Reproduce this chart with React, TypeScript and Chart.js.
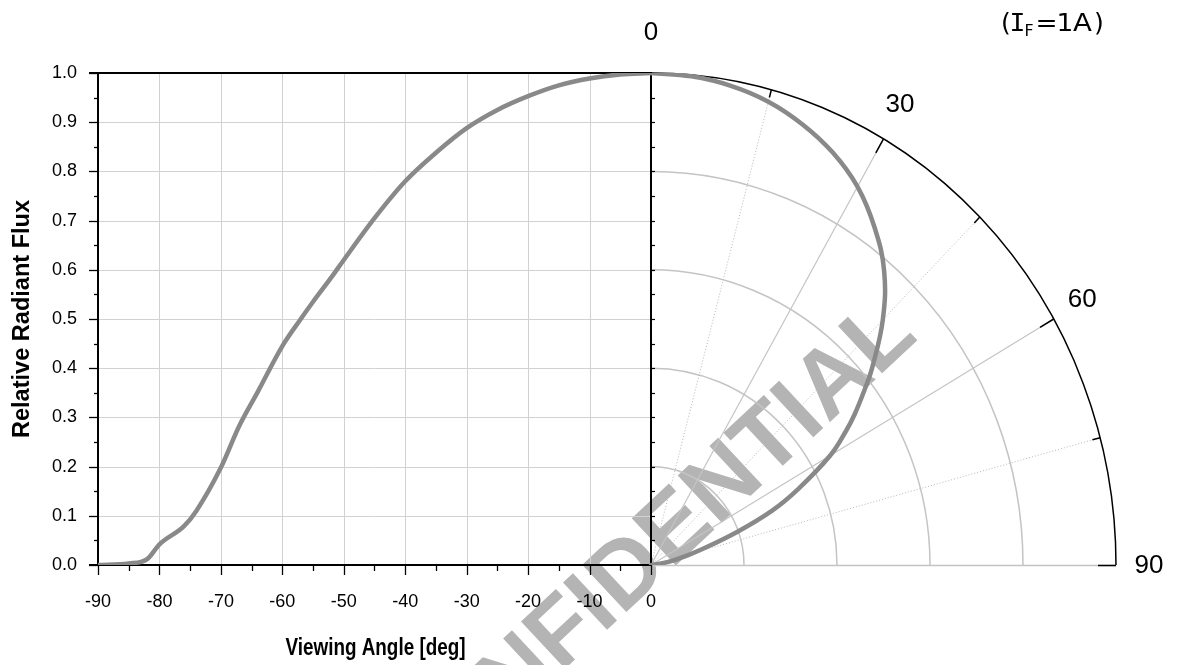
import React, { useEffect, useRef } from 'react';
import { Chart, registerables } from 'chart.js';

Chart.register(...registerables);

// ---- data ----
const angles = [-90, -85, -82, -80, -76, -74, -70, -67, -64, -60, -57, -55, -52, -50, -45, -40, -35, -30, -25, -20, -15, -10, -5, 0];
const flux = [0, 0.003, 0.012, 0.042, 0.079, 0.11, 0.198, 0.283, 0.352, 0.445, 0.5, 0.535, 0.585, 0.62, 0.705, 0.78, 0.838, 0.888, 0.925, 0.953, 0.975, 0.989, 0.997, 1.0];
const xTicks = [-90, -80, -70, -60, -50, -40, -30, -20, -10, 0];
const yTicks = [0, 0.1, 0.2, 0.3, 0.4, 0.5, 0.6, 0.7, 0.8, 0.9, 1.0];
const polarRings = [0.2, 0.4, 0.6, 0.8];
const polarMajor = [30, 60];
const polarMinor = [15, 45, 75];
const polarLabels = [0, 30, 60, 90];
const xTitle = 'Viewing Angle [deg]';
const yTitle = 'Relative Radiant Flux';
const watermark = 'CONFIDENTIAL';

// ---- layout (pixels) ----
const W = 1178;
const H = 665;
const AREA_L = 98;
const AREA_R = 1116;
const AREA_T = 73;
const AREA_B = 565;
const ZERO_X = 651;
const X_MAX = (90 * (AREA_R - ZERO_X)) / (ZERO_X - AREA_L);
const XP_MIN = -(ZERO_X - AREA_L) / (AREA_R - ZERO_X);

const FONT = "'Liberation Sans', Arial, sans-serif";
const CURVE = '#898989';
const GRID = '#d2d2d2';
const PGRID = '#c4c4c4';

const rad = (d: number) => (d * Math.PI) / 180;

function seg(ctx: CanvasRenderingContext2D, x1: number, y1: number, x2: number, y2: number, color: string, w: number, dash?: number[]) {
  ctx.save();
  ctx.strokeStyle = color;
  ctx.lineWidth = w;
  ctx.setLineDash(dash || []);
  ctx.beginPath();
  ctx.moveTo(x1, y1);
  ctx.lineTo(x2, y2);
  ctx.stroke();
  ctx.restore();
}

function fitText(ctx: CanvasRenderingContext2D, text: string, x: number, y: number, target: number, rot: number, font: string) {
  ctx.save();
  ctx.font = font;
  ctx.fillStyle = '#000';
  ctx.textAlign = 'center';
  ctx.textBaseline = 'alphabetic';
  ctx.translate(x, y);
  ctx.rotate(rot);
  const w = ctx.measureText(text).width;
  ctx.scale(target / w, 1);
  ctx.fillText(text, 0, 0);
  ctx.restore();
}

function glyph(ctx: CanvasRenderingContext2D, t: string, x: number, y: number, font: string, sx: number) {
  ctx.save();
  ctx.font = font;
  ctx.fillStyle = '#000';
  ctx.textAlign = 'center';
  ctx.textBaseline = 'alphabetic';
  ctx.translate(x, y);
  ctx.scale(sx, 1);
  ctx.fillText(t, 0, 0);
  ctx.restore();
}

const decorPlugin = {
  id: 'decor',
  beforeDraw(chart: any) {
    const ctx: CanvasRenderingContext2D = chart.ctx;
    ctx.save();
    ctx.fillStyle = '#ffffff';
    ctx.fillRect(0, 0, chart.width, chart.height);
    // watermark
    ctx.translate(646, 558);
    ctx.rotate(rad(-43));
    ctx.font = `bold 94px ${FONT}`;
    ctx.fillStyle = '#b4b4b4';
    ctx.textAlign = 'center';
    ctx.textBaseline = 'middle';
    ctx.fillText(watermark, 0, 0);
    ctx.restore();
  },
  beforeDatasetsDraw(chart: any) {
    const ctx: CanvasRenderingContext2D = chart.ctx;
    const xs = chart.scales.x;
    const ys = chart.scales.y;
    const xp = chart.scales.xp;
    const top = ys.getPixelForValue(1);
    const bottom = ys.getPixelForValue(0);
    const left = xs.getPixelForValue(-90);
    const cx = xp.getPixelForValue(0);
    const cy = bottom;
    const rx = xp.getPixelForValue(1) - cx;
    const ry = cy - top;

    // cartesian grid
    xTicks.forEach((v) => {
      if (v === -90 || v === 0) return;
      const x = Math.round(xs.getPixelForValue(v)) + 0.5;
      seg(ctx, x, top, x, bottom, GRID, 1);
    });
    yTicks.forEach((v) => {
      if (v === 0 || v === 1) return;
      const y = Math.round(ys.getPixelForValue(v)) + 0.5;
      seg(ctx, left, y, cx, y, GRID, 1);
    });

    // polar grid
    ctx.save();
    ctx.strokeStyle = PGRID;
    ctx.lineWidth = 1.5;
    polarRings.forEach((r) => {
      ctx.beginPath();
      ctx.ellipse(cx, cy, rx * r, ry * r, 0, -Math.PI / 2, 0);
      ctx.stroke();
    });
    ctx.restore();
    polarMajor.forEach((a) => {
      seg(ctx, cx, cy, cx + rx * Math.sin(rad(a)), cy - ry * Math.cos(rad(a)), PGRID, 1.2);
    });
    polarMinor.forEach((a) => {
      seg(ctx, cx, cy, cx + rx * Math.sin(rad(a)), cy - ry * Math.cos(rad(a)), '#b8b8b8', 1, [1, 2]);
    });
    seg(ctx, cx, cy + 0.5, cx + rx, cy + 0.5, PGRID, 1.5);

    // outer arc
    ctx.save();
    ctx.strokeStyle = '#000';
    ctx.lineWidth = 1.5;
    ctx.beginPath();
    ctx.ellipse(cx, cy, rx, ry, 0, -Math.PI / 2, 0);
    ctx.stroke();
    ctx.restore();
    const outerTick = (a: number, len: number) => {
      const px = cx + rx * Math.sin(rad(a));
      const py = cy - ry * Math.cos(rad(a));
      const dx = cx - px;
      const dy = cy - py;
      const d = Math.hypot(dx, dy);
      seg(ctx, px, py, px + (dx / d) * len, py + (dy / d) * len, '#000', 1.5);
    };
    polarMajor.forEach((a) => outerTick(a, 16));
    polarMinor.forEach((a) => outerTick(a, 8));
    seg(ctx, cx + rx - 18, cy + 0.5, cx + rx, cy + 0.5, '#000', 1.5);

    // frame and axes
    seg(ctx, left - 9, top, cx, top, '#000', 2);
    seg(ctx, left, top, left, bottom + 1, '#000', 2);
    seg(ctx, left - 9, bottom, cx, bottom, '#000', 2);
    seg(ctx, cx, top - 1, cx, bottom + 1, '#000', 2);

    // ticks
    for (let i = 0; i <= 20; i++) {
      const v = i * 0.05;
      const y = Math.round(ys.getPixelForValue(v)) + 0.5;
      const major = i % 2 === 0;
      seg(ctx, left - (major ? 9 : 4), y, left, y, '#000', 1.3);
      if (i > 0 && i < 20) seg(ctx, cx, y, cx + 4, y, '#000', 1.2);
    }
    for (let v = -90; v <= 0; v += 5) {
      const x = Math.round(xs.getPixelForValue(v)) + 0.5;
      const major = v % 10 === 0;
      seg(ctx, x, bottom, x, bottom + (major ? 10 : 6), '#000', 1.3);
    }

    // polar labels
    ctx.save();
    ctx.font = `26px ${FONT}`;
    ctx.fillStyle = '#000';
    ctx.textAlign = 'center';
    ctx.textBaseline = 'middle';
    polarLabels.forEach((a) => {
      const lx = cx + (rx + 33) * Math.sin(rad(a));
      const ly = cy - (ry + 41) * Math.cos(rad(a));
      ctx.fillText(String(a), lx, ly + 1);
    });
    ctx.restore();

    // axis titles
    fitText(ctx, xTitle, (left + cx) / 2 + 1, 655, 180, 0, `bold 24px ${FONT}`);
    fitText(ctx, yTitle, 29, (top + bottom) / 2, 238, -Math.PI / 2, `bold 24px ${FONT}`);

    // condition note (I_F=1A)
    const big = "24px 'DejaVu Sans', sans-serif";
    const mono = "24px 'DejaVu Sans Mono', monospace";
    glyph(ctx, '(', 1006, 31, big, 1.05);
    glyph(ctx, 'I', 1017.5, 31, mono, 1.1);
    glyph(ctx, 'F', 1029, 35.5, "15px 'DejaVu Sans', sans-serif", 1.05);
    glyph(ctx, '=', 1046.5, 31, big, 1.1);
    glyph(ctx, '1', 1065, 31, big, 1.1);
    glyph(ctx, 'A', 1082.5, 31, big, 1.15);
    glyph(ctx, ')', 1099, 31, big, 1.05);
  },
};

export default function App() {
  const ref = useRef<HTMLCanvasElement | null>(null);

  useEffect(() => {
    if (!ref.current) return;
    const cartesian = angles.map((a, i) => ({ x: a, y: flux[i] }));
    const polar = angles.map((a, i) => ({
      x: flux[i] * Math.sin(rad(-a)),
      y: flux[i] * Math.cos(rad(-a)),
    }));
    const chart = new Chart(ref.current, {
      type: 'scatter',
      data: {
        datasets: [
          {
            data: cartesian,
            xAxisID: 'x',
            yAxisID: 'y',
            showLine: true,
            borderColor: CURVE,
            borderWidth: 4.5,
            pointRadius: 0,
            cubicInterpolationMode: 'monotone',
            borderCapStyle: 'round',
            borderJoinStyle: 'round',
          },
          {
            data: polar,
            xAxisID: 'xp',
            yAxisID: 'y',
            showLine: true,
            borderColor: CURVE,
            borderWidth: 4.5,
            pointRadius: 0,
            tension: 0.4,
            borderCapStyle: 'round',
            borderJoinStyle: 'round',
          },
        ],
      } as any,
      options: {
        responsive: false,
        animation: false,
        events: [],
        layout: { padding: { left: 0, top: AREA_T, right: W - AREA_R, bottom: 0 } },
        plugins: { legend: { display: false }, tooltip: { enabled: false } },
        scales: {
          x: {
            type: 'linear',
            position: 'bottom',
            min: -90,
            max: X_MAX,
            afterBuildTicks: (s: any) => {
              s.ticks = xTicks.map((v) => ({ value: v }));
            },
            afterFit: (s: any) => {
              s.height = H - AREA_B;
            },
            grid: { display: false, drawTicks: false },
            border: { display: false },
            ticks: {
              autoSkip: false,
              maxRotation: 0,
              minRotation: 0,
              padding: 26,
              color: '#000',
              font: { family: FONT, size: 18 },
              callback: (v: any) => String(v),
            },
          },
          xp: {
            type: 'linear',
            display: false,
            min: XP_MIN,
            max: 1,
          },
          y: {
            type: 'linear',
            position: 'left',
            min: 0,
            max: 1,
            afterFit: (s: any) => {
              s.width = AREA_L;
            },
            grid: { display: false, drawTicks: false },
            border: { display: false },
            ticks: {
              stepSize: 0.1,
              padding: 21,
              color: '#000',
              font: { family: FONT, size: 18 },
              callback: (v: any) => Number(v).toFixed(1),
            },
          },
        },
      } as any,
      plugins: [decorPlugin],
    });
    return () => chart.destroy();
  }, []);

  return (
    <div style={{ position: 'fixed', left: 0, top: 0, width: W, height: H, background: '#fff' }}>
      <canvas ref={ref} width={W} height={H} />
    </div>
  );
}
